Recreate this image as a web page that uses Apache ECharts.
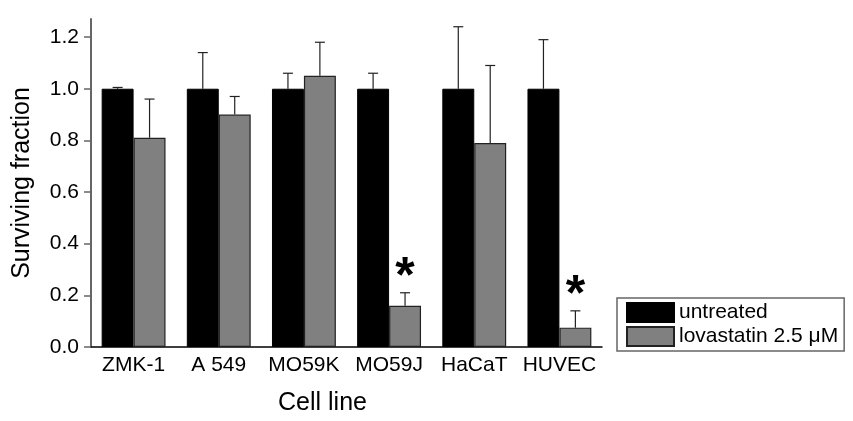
<!DOCTYPE html>
<html>
<head>
<meta charset="utf-8">
<script src="https://cdn.jsdelivr.net/npm/echarts@6/dist/echarts.min.js"></script>
<style>
  html, body { margin: 0; padding: 0; background: #fff; }
  #container { width: 853px; height: 421px; }
</style>
</head>
<body>
<div id="container"></div>
<script>
var cellLines = ['ZMK-1', 'A 549', 'MO59K', 'MO59J', 'HaCaT', 'HUVEC'];
var untreated = [1.0, 1.0, 1.0, 1.0, 1.0, 1.0];
var untreatedErrTop = [1.005, 1.14, 1.06, 1.06, 1.24, 1.19];
var lovastatin = [0.81, 0.90, 1.05, 0.16, 0.79, 0.075];
var lovastatinErrTop = [0.96, 0.97, 1.18, 0.21, 1.09, 0.14];
var significant = [false, false, false, true, false, true];
var yTicks = [0, 0.2, 0.4, 0.6, 0.8, 1.0, 1.2];

var font = "'Liberation Sans', Arial, sans-serif";

var dom = document.getElementById('container');
var myChart = echarts.init(dom);

// half of a bar width as a share of the category band (barCategoryGap 25%, barGap 0)
var barShift = 0.1875;

function errorBars(side, stars) {
    return function (params, api) {
        var i = api.value(0);
        var band = api.size([1, 0])[0];
        var x = api.coord([i, 0])[0] + side * barShift * band;
        var yTop = api.coord([i, api.value(2)])[1];
        var yBar = api.coord([i, api.value(1)])[1];
        var children = [
            { type: 'line', shape: { x1: x, y1: yBar, x2: x, y2: yTop },
              style: { stroke: '#222', lineWidth: 1.2 } },
            { type: 'line', shape: { x1: x - 5, y1: yTop, x2: x + 5, y2: yTop },
              style: { stroke: '#222', lineWidth: 1.2 } }
        ];
        if (stars && stars[i]) {
            children.push({
                type: 'text',
                style: { x: x, y: yTop - 15, text: '*', fill: '#000',
                         font: 'bold 50px ' + font, align: 'center', verticalAlign: 'middle' }
            });
        }
        return { type: 'group', children: children };
    };
}

option = {
    backgroundColor: '#ffffff',
    animation: false,
    grid: { left: 91, right: 251, top: 19, bottom: 67 },
    legend: {
        orient: 'vertical',
        left: 617,
        top: 298,
        padding: [4, 6, 4, 9],
        itemWidth: 47,
        itemHeight: 19,
        itemGap: 3,
        borderColor: '#666',
        borderWidth: 1.5,
        icon: 'rect',
        textStyle: { fontFamily: font, fontSize: 21, color: '#000' },
        data: ['untreated', 'lovastatin 2.5 μM']
    },
    xAxis: {
        type: 'category',
        data: cellLines,
        name: 'Cell line',
        nameLocation: 'middle',
        nameGap: 44,
        nameTextStyle: { fontFamily: font, fontSize: 25, color: '#000', padding: [0, 48, 0, 0] },
        axisLine: { lineStyle: { color: '#000', width: 1.5 } },
        axisTick: { alignWithLabel: true, interval: 0, length: 6, lineStyle: { color: '#444', width: 1.5 } },
        axisLabel: { fontFamily: font, fontSize: 21, color: '#000', margin: 8, interval: 0, hideOverlap: false }
    },
    yAxis: {
        type: 'value',
        min: 0,
        max: 1.27,
        interval: 0.2,
        name: 'Surviving fraction',
        nameLocation: 'middle',
        nameGap: 56,
        nameTextStyle: { fontFamily: font, fontSize: 25, color: '#000' },
        splitLine: { show: false },
        axisLine: { show: true, lineStyle: { color: '#666', width: 2 } },
        axisTick: { show: true, length: 7, customValues: yTicks, lineStyle: { color: '#666', width: 1.5 } },
        axisLabel: {
            fontFamily: font, fontSize: 21, color: '#000', margin: 12,
            customValues: yTicks,
            formatter: function (v) { return v.toFixed(1); }
        }
    },
    series: [{
        name: 'untreated',
        type: 'bar',
        data: untreated,
        barGap: '0%',
        barCategoryGap: '25%',
        itemStyle: { color: '#000', borderColor: '#000', borderWidth: 1 },
        z: 2
    }, {
        name: 'lovastatin 2.5 μM',
        type: 'bar',
        data: lovastatin,
        itemStyle: { color: '#808080', borderColor: '#222', borderWidth: 1.2 },
        z: 2
    }, {
        type: 'custom',
        renderItem: errorBars(-1, null),
        data: cellLines.map(function (c, i) { return [i, untreated[i], untreatedErrTop[i]]; }),
        encode: { x: 0, y: 2 },
        z: 1
    }, {
        type: 'custom',
        renderItem: errorBars(1, significant),
        data: cellLines.map(function (c, i) { return [i, lovastatin[i], lovastatinErrTop[i]]; }),
        encode: { x: 0, y: 2 },
        z: 1
    }]
};

if (option && typeof option === 'object') {
    myChart.setOption(option, true);
}
</script>
</body>
</html>
